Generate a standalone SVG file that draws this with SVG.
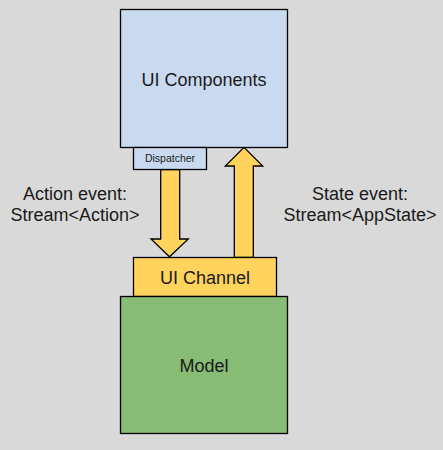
<svg xmlns="http://www.w3.org/2000/svg" width="443" height="450" viewBox="0 0 443 450">
<style>
text{font-family:"Liberation Sans",Arial,sans-serif;fill:#1a1a1a;text-anchor:middle}
.box{stroke:#000;stroke-width:1.3}
.arrow{fill:#ffd35c;stroke:#000;stroke-width:1.3;stroke-linejoin:miter}
.lbl{font-size:18px}
</style>
<rect width="443" height="450" fill="#d9d9d9"/>
<g id="connectors">
<polygon class="arrow" points="160.7,169.5 179.7,169.5 179.7,239 188.3,239 169.5,256.8 151,239 160.7,239"/>
<polygon class="arrow" points="234.3,257.5 253.3,257.5 253.3,166 262.7,166 244,147.3 225.3,166 234.3,166"/>
</g>
<g id="ui-components">
<rect class="box" x="120.5" y="9.5" width="167" height="138" fill="#c9daf0"/>
<text x="204" y="86" font-size="18">UI Components</text>
</g>
<g id="dispatcher">
<rect class="box" x="133.5" y="147.5" width="73" height="22" fill="#c9daf0"/>
<text x="170" y="162" font-size="10.5">Dispatcher</text>
</g>
<g id="ui-channel">
<rect class="box" x="133.5" y="257.5" width="143" height="39" fill="#ffd35c"/>
<text x="205" y="284" font-size="18">UI Channel</text>
</g>
<g id="model">
<rect class="box" x="120.5" y="296.5" width="167" height="137" fill="#88bc74"/>
<text x="204" y="372" font-size="18">Model</text>
</g>
<g id="labels">
<text class="lbl" x="75" y="200">Action event:</text>
<text class="lbl" x="75" y="221">Stream&lt;Action&gt;</text>
<text class="lbl" x="360" y="200">State event:</text>
<text class="lbl" x="360" y="221">Stream&lt;AppState&gt;</text>
</g>
</svg>
